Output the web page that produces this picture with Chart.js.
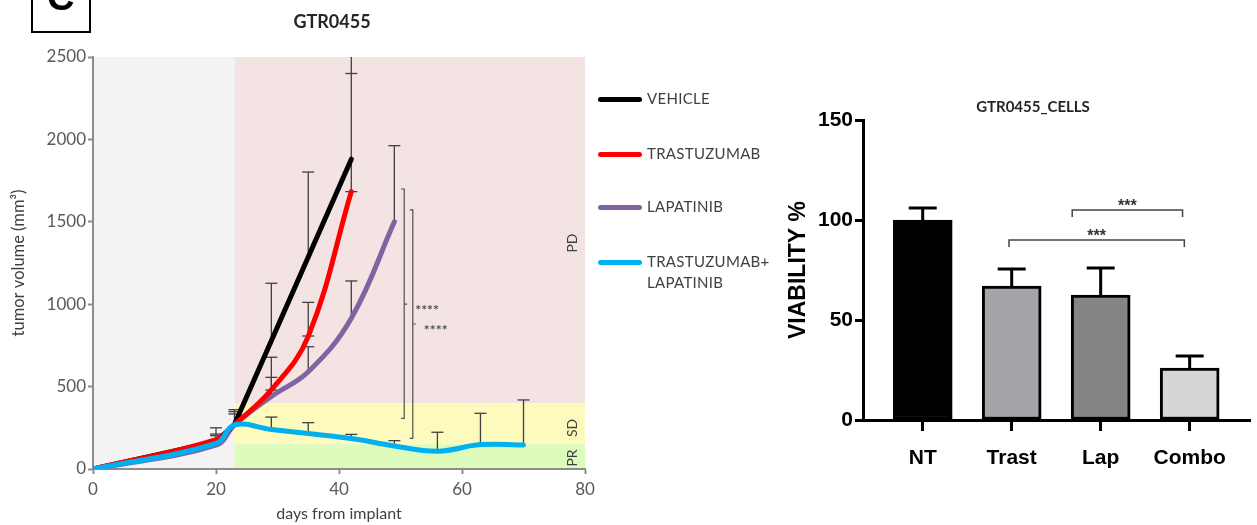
<!DOCTYPE html>
<html><head><meta charset="utf-8">
<script src="https://cdn.jsdelivr.net/npm/chart.js@4.4.1/dist/chart.umd.min.js"></script>
<style>
html,body{margin:0;padding:0;background:#fff;width:1257px;height:525px;overflow:hidden;position:relative;font-family:Lato,sans-serif}
canvas{position:absolute;top:0}
#c1{left:0}
#c2{left:780px}
.box{position:absolute;left:31px;top:-30px;width:56px;height:59px;border:2px solid #000}
.boxC{position:absolute;left:47px;top:-22px;font:bold 38px/38px "Liberation Sans",Arial,sans-serif;color:#000}
.t1{position:absolute;left:262px;width:140px;top:11px;text-align:center;font:bold 18px/20px Lato,sans-serif;color:#262626}
.t2{position:absolute;left:953px;width:160px;top:98px;text-align:center;font:bold 15px/17px Lato,sans-serif;color:#262626}
.lg{position:absolute;left:598px;width:44px;height:5px;border-radius:3px}
.lt{position:absolute;left:647px;font:15px/21px Lato,sans-serif;color:#404040;letter-spacing:0.3px;white-space:nowrap}
</style></head>
<body>
<canvas id="c1" width="600" height="525"></canvas>
<canvas id="c2" width="477" height="525"></canvas>
<div class="box"></div><div class="boxC">C</div>
<div class="t1">GTR0455</div>
<div class="t2">GTR0455_CELLS</div>
<div id="legend"></div>
<script>
// ---- Left chart data ----
const days = [0, 20, 23, 29, 35, 42, 49, 56, 63, 70];
const vehicle = [0, 165, 270, 778, 1286, 1880];
const trastuzumab = [0, 178, 270, 480, 805, 1683];
const lapatinib = [0, 145, 268, 440, 590, 915, 1500];
const combo = [0, 155, 267, 240, 215, 185, 140, 108, 148, 146];
const seriesNames = ['VEHICLE', 'TRASTUZUMAB', 'LAPATINIB', 'TRASTUZUMAB+\nLAPATINIB'];
const seriesColors = ['#000000', '#ff0000', '#8064a2', '#00b0f0'];
const treatmentStart = 23;
const bandPD = [400, 2500];
const bandSD = [150, 400];
const bandPR = [0, 150];
// error bars: [day, from, to] and caps: [day, value]
const errStems = [[20,170,250],[23,268,360],[29,778,1127],[29,480,678],[29,440,556],[29,240,315],
  [35,1286,1802],[35,805,1011],[35,590,742],[35,215,281],[42,1683,2500],[42,915,1141],[42,185,210],
  [49,1500,1962],[49,140,172],[56,108,223],[63,148,338],[70,146,419]];
const errCaps = [[20,250],[20,212],[20,202],[23,360],[23,348],[23,334],[29,1127],[29,678],[29,556],[29,479],
  [29,315],[35,1802],[35,1011],[35,807],[35,742],[35,281],[42,2400],[42,1683],[42,1141],[42,210],
  [49,1962],[49,172],[56,223],[63,338],[70,419]];
// significance brackets: [day, low, high, mid]
const sigBrackets = [[50.6, 307, 1699, 1001], [52.0, 186, 1572, 880]];
const sigLabel = '****';
const regionLabels = [['PD', 1371], ['SD', 249], ['PR', 67]];
const regionDay = 78;

// ---- Right chart data ----
const barCats = ['NT', 'Trast', 'Lap', 'Combo'];
const barValues = [100, 67, 62.5, 26];
const barErrTop = [106, 75.5, 76, 32];
const barColors = ['#000000', '#a5a5a9', '#858585', '#d6d6d6'];
const barSig = [[2, 3, 105, '***'], [1, 3, 90, '***']];

// legend (HTML)
(function(){
  const lg = document.getElementById('legend');
  const ys = [99, 154, 207, 262];
  seriesNames.forEach((n, i) => {
    const l = document.createElement('div'); l.className = 'lg';
    l.style.top = (ys[i] - 2.5) + 'px'; l.style.background = seriesColors[i]; lg.appendChild(l);
    const t = document.createElement('div'); t.className = 'lt';
    t.style.top = (ys[i] - 11) + 'px'; t.innerHTML = n.replace('\n', '<br>'); lg.appendChild(t);
  });
})();

const toXY = arr => arr.map((v, i) => ({x: days[i], y: v}));

const bgPlugin = {
  id: 'bg',
  beforeDraw(chart) {
    const {ctx, scales: {x, y}} = chart;
    ctx.save();
    const X = v => x.getPixelForValue(v), Y = v => y.getPixelForValue(v);
    ctx.fillStyle = '#f3f3f3';
    ctx.fillRect(X(0), Y(2500), X(treatmentStart) - X(0), Y(0) - Y(2500));
    ctx.fillStyle = '#f3e3e3';
    ctx.fillRect(X(treatmentStart), Y(bandPD[1]), X(80) - X(treatmentStart), Y(bandPD[0]) - Y(bandPD[1]));
    ctx.fillStyle = '#fcfabd';
    ctx.fillRect(X(treatmentStart), Y(bandSD[1]), X(80) - X(treatmentStart), Y(bandSD[0]) - Y(bandSD[1]));
    ctx.fillStyle = '#ddfbba';
    ctx.fillRect(X(treatmentStart), Y(bandPR[1]), X(80) - X(treatmentStart), Y(bandPR[0]) - Y(bandPR[1]));
    ctx.restore();
  }
};

const errPlugin = {
  id: 'err',
  beforeDatasetsDraw(chart) {
    const {ctx, scales: {x, y}} = chart;
    ctx.save();
    ctx.strokeStyle = '#404040'; ctx.lineWidth = 1.3;
    errStems.forEach(([d, a, b]) => {
      const px = x.getPixelForValue(d);
      ctx.beginPath(); ctx.moveTo(px, y.getPixelForValue(a)); ctx.lineTo(px, y.getPixelForValue(b)); ctx.stroke();
    });
    errCaps.forEach(([d, v]) => {
      const px = x.getPixelForValue(d), py = y.getPixelForValue(v);
      ctx.beginPath(); ctx.moveTo(px - 6, py); ctx.lineTo(px + 6, py); ctx.stroke();
    });
    ctx.restore();
  }
};

const annPlugin = {
  id: 'ann',
  afterDatasetsDraw(chart) {
    const {ctx, scales: {x, y}} = chart;
    ctx.save();
    ctx.strokeStyle = '#505050'; ctx.lineWidth = 1.2;
    ctx.fillStyle = '#505050';
    ctx.font = 'bold 14px Lato, sans-serif';
    ctx.textAlign = 'left'; ctx.textBaseline = 'alphabetic';
    sigBrackets.forEach(([d, lo, hi, mid]) => {
      const px = x.getPixelForValue(d);
      const pl = y.getPixelForValue(lo), ph = y.getPixelForValue(hi), pm = y.getPixelForValue(mid);
      ctx.beginPath();
      ctx.moveTo(px - 3, ph); ctx.lineTo(px, ph); ctx.lineTo(px, pl); ctx.lineTo(px - 3, pl);
      ctx.moveTo(px, pm); ctx.lineTo(px + 3, pm);
      ctx.stroke();
      ctx.fillText(sigLabel, px + 11, pm + 11);
    });
    ctx.fillStyle = '#404040';
    ctx.font = '14px Lato, sans-serif';
    ctx.textAlign = 'center'; ctx.textBaseline = 'middle';
    regionLabels.forEach(([t, v]) => {
      ctx.save();
      ctx.translate(x.getPixelForValue(regionDay), y.getPixelForValue(v));
      ctx.rotate(-Math.PI / 2);
      ctx.fillText(t, 0, 0);
      ctx.restore();
    });
    ctx.restore();
  }
};

const lineDs = (label, data, color, order, tension) => ({
  label, data, borderColor: color, backgroundColor: color, borderWidth: 5, pointRadius: 0,
  tension, order, borderCapStyle: 'round', borderJoinStyle: 'round', fill: false
});

new Chart(document.getElementById('c1'), {
  type: 'line',
  data: {datasets: [
    lineDs(seriesNames[0], toXY(vehicle), seriesColors[0], 4, 0),
    lineDs(seriesNames[1], toXY(trastuzumab), seriesColors[1], 2, 0.4),
    lineDs(seriesNames[2], toXY(lapatinib), seriesColors[2], 3, 0.4),
    lineDs(seriesNames[3], toXY(combo), seriesColors[3], 1, 0.4)
  ]},
  options: {
    responsive: false, animation: false, devicePixelRatio: 1,
    layout: {padding: {left: 8, right: 15, top: 57, bottom: 2}},
    plugins: {legend: {display: false}, tooltip: {enabled: false}, title: {display: false}},
    scales: {
      x: {
        type: 'linear', min: 0, max: 80,
        ticks: {stepSize: 20, color: '#595959', font: {family: 'Lato', size: 17}, padding: 5, maxRotation: 0, callback: v => String(v)},
        grid: {drawOnChartArea: false, tickLength: 5, tickColor: '#8c8c8c', tickWidth: 2},
        border: {color: '#8c8c8c', width: 2},
        title: {display: true, text: 'days from implant', color: '#404040', font: {family: 'Lato', size: 16}, padding: 0},
        afterFit(s) { s.height = 54; }
      },
      y: {
        min: 0, max: 2500,
        ticks: {stepSize: 500, color: '#595959', font: {family: 'Lato', size: 17}, padding: 2, callback: v => String(v)},
        grid: {drawOnChartArea: false, tickLength: 5, tickColor: '#8c8c8c', tickWidth: 2},
        border: {color: '#8c8c8c', width: 2},
        title: {display: true, text: 'tumor volume (mm³)', color: '#404040', font: {family: 'Lato', size: 16.5}, padding: {top: 1, bottom: 0}},
        afterFit(s) { s.width = 85; }
      }
    }
  },
  plugins: [bgPlugin, errPlugin, annPlugin]
});

// ---- Right chart ----
const barErrPlugin = {
  id: 'barErr',
  afterDatasetsDraw(chart) {
    const {ctx, scales: {x, y}} = chart;
    ctx.save();
    ctx.strokeStyle = '#000'; ctx.lineWidth = 3;
    barValues.forEach((v, i) => {
      const px = x.getPixelForValue(i), p0 = y.getPixelForValue(v), p1 = y.getPixelForValue(barErrTop[i]);
      ctx.beginPath(); ctx.moveTo(px, p0); ctx.lineTo(px, p1);
      ctx.moveTo(px - 14, p1); ctx.lineTo(px + 14, p1); ctx.stroke();
    });
    // significance brackets
    const insets = [[-0.32, -0.08], [-0.03, -0.06]];
    ctx.strokeStyle = '#444'; ctx.lineWidth = 1.5;
    ctx.fillStyle = '#333'; ctx.font = 'bold 16px "Liberation Sans", Arial, sans-serif';
    ctx.textAlign = 'center'; ctx.textBaseline = 'alphabetic';
    barSig.forEach(([a, b, h, t], k) => {
      const xa = x.getPixelForValue(a + insets[k][0]), xb = x.getPixelForValue(b + insets[k][1]);
      const py = y.getPixelForValue(h);
      ctx.beginPath();
      ctx.moveTo(xa, py + 7); ctx.lineTo(xa, py); ctx.lineTo(xb, py); ctx.lineTo(xb, py + 7);
      ctx.stroke();
      ctx.fillText(t, (xa + xb) / 2, py + 1);
    });
    ctx.restore();
  }
};

new Chart(document.getElementById('c2'), {
  type: 'bar',
  data: {datasets: [{
    data: barValues.map((v, i) => ({x: i, y: v})),
    backgroundColor: barColors, borderColor: '#000', borderWidth: 3, borderSkipped: false, barThickness: 59
  }]},
  options: {
    responsive: false, animation: false, devicePixelRatio: 1,
    layout: {padding: {left: 0, right: 7, top: 120, bottom: 40}},
    plugins: {legend: {display: false}, tooltip: {enabled: false}},
    scales: {
      x: {
        type: 'linear', min: -0.671, max: 3.678, offset: false,
        afterBuildTicks(s) { s.ticks = barCats.map((c, i) => ({value: i})); },
        ticks: {callback: (v) => barCats[v], color: '#000', font: {family: 'Liberation Sans', weight: 'bold', size: 21}, padding: 15, autoSkip: false, maxRotation: 0},
        grid: {drawOnChartArea: false, offset: false, tickLength: 11, tickWidth: 3, tickColor: '#000'},
        border: {color: '#000', width: 3},
        afterFit(s) { s.height = 65; }
      },
      y: {
        min: 0, max: 150,
        ticks: {stepSize: 50, color: '#000', font: {family: 'Liberation Sans', weight: 'bold', size: 21}, padding: 2},
        grid: {drawOnChartArea: false, tickLength: 8, tickWidth: 3, tickColor: '#000'},
        border: {color: '#000', width: 3},
        title: {display: true, text: 'VIABILITY %', color: '#000', font: {family: 'Liberation Sans', weight: 'bold', size: 23}, padding: {top: 5, bottom: 0}},
        afterFit(s) { s.width = 83; }
      }
    }
  },
  plugins: [barErrPlugin]
});
</script>
</body></html>
